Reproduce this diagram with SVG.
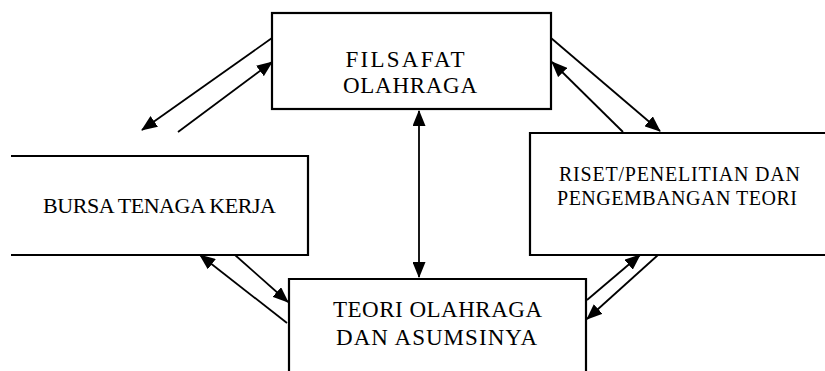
<svg xmlns="http://www.w3.org/2000/svg" width="825" height="371" viewBox="0 0 825 371">
<defs>
<marker id="ah" markerUnits="userSpaceOnUse" markerWidth="16" markerHeight="13" refX="15" refY="6.5" orient="auto-start-reverse" viewBox="0 0 16 13">
<path d="M0,0 L16,6.5 L0,13 z" fill="#000"/>
</marker>
<style>
.box{fill:#fff;stroke:#000;stroke-width:2.2}
.lbl{font-family:"Liberation Serif","Times New Roman",serif;font-size:22px;fill:#000;text-anchor:middle}
.big{font-size:23px}
.sm{font-size:20px}
.con{stroke:#000;stroke-width:1.8;fill:none}
</style>
</defs>
<rect width="825" height="371" fill="#fff"/>
<g id="filsafat">
<rect class="box" x="272" y="13" width="279" height="96"/>
<text class="lbl big" x="405" y="67" textLength="119" lengthAdjust="spacing">FILSAFAT</text>
<text class="lbl big" x="410" y="93" textLength="134" lengthAdjust="spacing">OLAHRAGA</text>
</g>
<g id="bursa">
<path class="box" d="M11,156 H308 V255 H11"/>
<text class="lbl" x="159.5" y="213" textLength="233" lengthAdjust="spacing">BURSA TENAGA KERJA</text>
</g>
<g id="riset">
<path class="box" d="M826,133 H530 V255 H826"/>
<text class="lbl sm" x="679.5" y="181" textLength="241" lengthAdjust="spacing">RISET/PENELITIAN DAN</text>
<text class="lbl sm" x="677" y="205" textLength="240" lengthAdjust="spacing">PENGEMBANGAN TEORI</text>
</g>
<g id="teori">
<path class="box" d="M289,372 V279 H586 V372"/>
<text class="lbl big" x="437.5" y="317" textLength="209" lengthAdjust="spacing">TEORI OLAHRAGA</text>
<text class="lbl big" x="436.5" y="345" textLength="201" lengthAdjust="spacing">DAN ASUMSINYA</text>
</g>
<g id="connectors">
<line class="con" x1="419" y1="111" x2="419" y2="277" marker-start="url(#ah)" marker-end="url(#ah)"/>
<line class="con" x1="272" y1="38" x2="142" y2="130" marker-end="url(#ah)"/>
<line class="con" x1="178" y1="132" x2="272" y2="62" marker-end="url(#ah)"/>
<line class="con" x1="551" y1="38" x2="660" y2="131" marker-end="url(#ah)"/>
<line class="con" x1="623" y1="132" x2="552" y2="62" marker-end="url(#ah)"/>
<line class="con" x1="235" y1="255" x2="288" y2="302" marker-end="url(#ah)"/>
<line class="con" x1="287" y1="323" x2="200" y2="255" marker-end="url(#ah)"/>
<line class="con" x1="587" y1="300" x2="640" y2="255" marker-end="url(#ah)"/>
<line class="con" x1="658" y1="255" x2="587" y2="319" marker-end="url(#ah)"/>
</g>
</svg>
